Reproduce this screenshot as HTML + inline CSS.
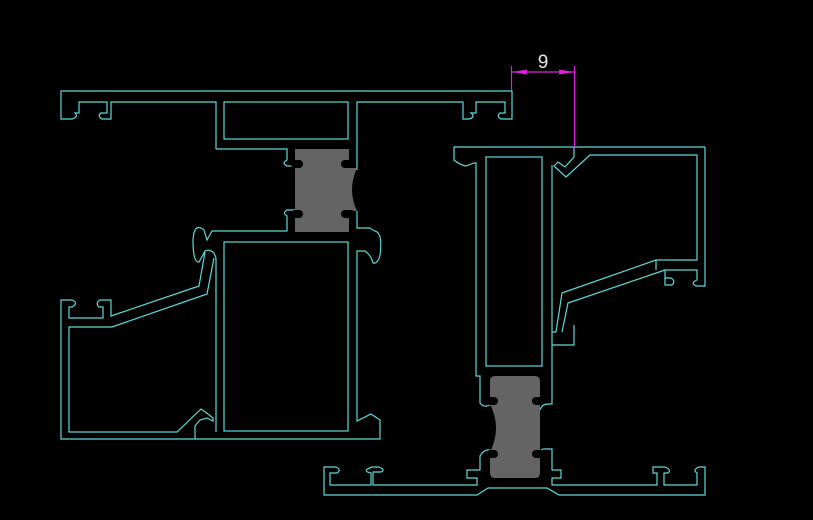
<!DOCTYPE html>
<html><head><style>html,body{margin:0;padding:0;background:#000}svg{display:block}</style></head>
<body>
<svg width="813" height="520" viewBox="0 0 813 520" xmlns="http://www.w3.org/2000/svg">
<rect width="813" height="520" fill="#000"/>
<g fill="none" stroke="#5fd8d8" stroke-width="1.2" stroke-linejoin="miter">
<!-- top-left frame -->
<path d="M216,149 V102 H111 V119 H102 Q97,116 101,113 H107 V102 H79 V113 H75 Q79,117 72,119 H61 V91 H512 V119 H501 Q496,116 500,113 H505 V102 H476 V113 H471 Q476,117 469,119 H463 V102 H357 V170"/>
<path d="M216,149 H287 V160 Q281,163 287,166 H295"/>
<rect x="224" y="102" width="124" height="37"/>
<path d="M357,211 V228 H370 Q372,230 375,231 Q383,233 380,255 Q378,264 373,263 Q371,255 365,251 H357 V421 L371,414 L380,420 V439 H61 V300 H72 Q79,303 72,307 H69 V318 H103 V307 H99 Q95,303 100,300 H111 V316 L199,286 L205,252"/>
<path d="M295,210 H287 Q282,213 287,216 V231 H212 L207,240 L204,230 Q194,222 193,240 Q193,263 199,262 L205,251 Q210,249 214,253 L216,258"/>
<path d="M216,258 V432 M214,258 L207,294 L112,327 H69 V432 H177 L201,409 L208,414 L213,418 V421 L207,418 L200,420 L195,426 V439"/>
<rect x="224" y="242" width="124" height="189"/>
<!-- right sash -->
<path d="M705,147 H454 V160 Q460,165 466,166 L474,163 H476 V376 H480 V403 Q484,408 490,405"/>
<path d="M574,147 V157 L565,167 L558,162 L554,166 L566,177 L590,155 H697 V260 H656 L562,293 L556,332 H552 V165"/>
<path d="M705,147 V286 H696 Q690,283 697,280 H697 V270 H665 V285 H672 Q676,281 671,278 H665"/>
<path d="M656,260 L656,270 M665,270 L568,303 L562,332"/>
<path d="M552,332 V345 H574 V325 M552,345 V404 H548 Q542,404 540,410"/>
<rect x="486" y="157" width="56" height="209"/>
<!-- sill -->
<path d="M490,450 Q484,449 480,456 V470 H467 V478 H477 V485 H373 V472 H381 Q386,470 379,467 H372 Q361,471 371,473 V485 H330 V473 H337 Q342,470 336,467 H324 V495 H477 L488,488 H547 L559,495 H705 V467 H699 Q692,470 697,473 V485 H664 V473 H668 Q672,470 665,467 H653 V473 H657 V485 H552 V478 H561 V470 H552 V449 H546 Q542,448 540,452"/>
</g>
<!-- gaskets -->
<path d="M295,149 H349 V168 H357 Q347,190 357,211 H349 V232 H295 Z" fill="#646464"/>
<g fill="#000">
<rect x="291" y="160" width="12" height="8" rx="4"/>
<rect x="291" y="210" width="12" height="8" rx="4"/>
<rect x="341" y="160" width="14" height="8" rx="4"/>
<rect x="341" y="210" width="14" height="8" rx="4"/>
</g>
<path d="M495,376 H535 Q540,376 540,381 V473 Q540,478 535,478 H495 Q490,478 490,473 V452 Q502,428 490,404 V381 Q490,376 495,376 Z" fill="#646464"/>
<g fill="#000">
<rect x="486" y="397" width="12" height="8" rx="4"/>
<rect x="486" y="450" width="12" height="8" rx="4"/>
<rect x="532" y="397" width="12" height="8" rx="4"/>
<rect x="532" y="450" width="12" height="8" rx="4"/>
</g>
<!-- dimension -->
<g stroke="#e020e0" stroke-width="1.2" fill="#e020e0">
<line x1="511.5" y1="66" x2="511.5" y2="91"/>
<line x1="574.5" y1="66" x2="574.5" y2="147"/>
<line x1="511" y1="72" x2="575" y2="72"/>
<polygon points="512,72 527,69.5 527,74.5" stroke="none"/>
<polygon points="574,72 559,69.5 559,74.5" stroke="none"/>
</g>
<text x="543" y="68" fill="#e8e8e8" font-family="Liberation Sans, sans-serif" font-size="19" text-anchor="middle">9</text>
</svg>
</body></html>
